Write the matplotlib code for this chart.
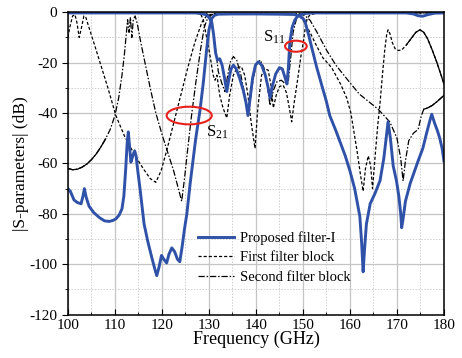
import numpy as np
import matplotlib
matplotlib.use("Agg")
import matplotlib.pyplot as plt
from matplotlib.patches import Ellipse
from matplotlib.ticker import MultipleLocator

plt.rcParams['font.family'] = ['Liberation Serif', 'DejaVu Serif']
plt.rcParams['mathtext.fontset'] = 'custom'
plt.rcParams['mathtext.rm'] = 'Liberation Serif'
plt.rcParams['mathtext.it'] = 'Liberation Serif:italic'
plt.rcParams['axes.unicode_minus'] = False

# proposed filter-I, S21 (blue)
prop_s21 = [
    (100, -70), (100.5, -71), (101.3, -74.5), (102, -75.5), (102.8, -76), (103.2, -73),
    (103.5, -70), (103.9, -73.5), (104.5, -77), (105.5, -79.5), (106.7, -81.5), (107.8, -82.8),
    (108.8, -83), (109.6, -82.6), (110.2, -82), (110.9, -80.5), (111.5, -78), (111.9, -73),
    (112.3, -62), (112.6, -52), (112.85, -47.5), (113.1, -53), (113.4, -59.5), (113.8, -57),
    (114.2, -55), (114.5, -57), (114.8, -62), (115.4, -71), (116.2, -84), (117, -91),
    (117.8, -97), (118.5, -102), (118.9, -104.5), (119.4, -101), (119.9, -96.5), (120.4, -98),
    (121, -99.5), (121.5, -96), (122.1, -93.5), (122.7, -95), (123.3, -98), (123.8, -99),
    (124.3, -93), (124.8, -86), (125.3, -80), (126, -68), (126.6, -59), (127.2, -50),
    (128.1, -38.9), (128.8, -28), (129.5, -15), (130, -7), (130.6, -2.5), (131.2, -1.2),
    (132, -0.8), (135, -0.7), (140, -0.7), (145, -0.8), (148, -0.9), (149.3, -1.5),
    (150, -2.5), (150.4, -3.5), (151.2, -9), (152, -15), (152.9, -21.7), (154, -29),
    (155, -35.5), (155.7, -41), (157, -47), (158, -52), (159, -57), (160, -63),
    (161, -70), (162.1, -81), (162.5, -92), (162.8, -103), (163.1, -94), (163.5, -84),
    (164.3, -76), (165.3, -72), (166.4, -66.8), (167.2, -58), (167.7, -50), (168.1, -43.5),
    (168.6, -50), (169.2, -61), (169.9, -67), (170.4, -73), (170.8, -80), (171, -85.5),
    (171.3, -82), (171.8, -75), (172.8, -68), (174.5, -59), (175.5, -54), (176.3, -48),
    (177, -43), (177.4, -40.5), (178, -44), (178.6, -47), (179.1, -50), (179.6, -54), (180, -59),
]

# proposed filter-I, S11 (blue)
prop_s11 = [
    (100, -0.3), (127, -0.3), (128.5, -0.6), (129.3, -1), (130, -2), (130.6, -4),
    (131, -9), (131.4, -16), (131.8, -19), (132.3, -18.5), (132.8, -21), (133.3, -26),
    (133.8, -31.5), (134.2, -27), (134.7, -22.5), (135.2, -21), (135.8, -22.5), (136.5, -26),
    (137.3, -31), (137.9, -36), (138.3, -41), (138.7, -35), (139.3, -26), (139.9, -21),
    (140.5, -19.7), (141.2, -21), (142, -25), (142.6, -30), (143, -34), (143.4, -30),
    (144.2, -24.5), (145, -22), (145.6, -22.5), (146.2, -26), (146.6, -28.5), (146.9, -22),
    (147.2, -12), (147.7, -6), (148.3, -3), (148.8, -1.8), (149.5, -1), (150.5, -0.5),
    (152, -0.3), (172, -0.3), (173.5, -0.7), (174.5, -1.4), (175.5, -1.6), (176.5, -1),
    (178, -0.4), (180, -0.3),
]

# first filter block, S21 (short dashes)
first_s21 = [
    (100, -10), (100.4, -6), (101, -1.5), (101.5, -1), (101.9, -4), (102.4, -10),
    (102.9, -6), (103.4, -1.5), (103.8, -2), (104.3, -5), (105.5, -12), (107, -21),
    (108.5, -30), (110.2, -41), (112, -49), (114, -56), (116, -62), (117.5, -66),
    (118.7, -67.5), (119.8, -63), (121, -55), (122.5, -44), (124, -33), (125.5, -22),
    (127, -12), (128.5, -4), (129.5, -1.5), (131, -0.5), (140, -0.4), (148.5, -0.6),
    (149.3, -1.5), (150.3, -4), (151.5, -8), (152.8, -13), (154.2, -18), (156.1, -22),
    (158, -28.5), (159.3, -34), (160.2, -40), (160.8, -47), (161.5, -55), (162.2, -64),
    (162.8, -71), (163.3, -62), (163.9, -57), (164.4, -61), (164.8, -70), (165.4, -56),
    (165.9, -45), (166.4, -36), (166.9, -25), (167.4, -15), (167.8, -9), (168.1, -7),
    (168.5, -8.5), (169, -12), (169.6, -14.5), (170.3, -15.2), (171, -15), (172, -13),
    (173, -10.5), (174, -8), (174.9, -7), (175.7, -8), (176.5, -10.5), (177.5, -15),
    (178.5, -20), (179.3, -24.5), (180, -28.5),
]

# first filter block, S11
first_s11 = [
    (100, -0.3), (127.5, -0.3), (128.3, -1), (128.8, -3), (129.3, -8), (129.8, -13),
    (130.3, -18), (130.9, -25), (131.3, -27), (131.7, -25), (132.3, -33), (133, -38),
    (133.8, -42), (134.4, -33), (135.2, -25), (136, -22), (136.9, -21.6), (137.6, -25),
    (138.3, -33), (139, -44), (139.8, -54), (140.4, -38), (141.2, -25), (141.9, -22.5),
    (142.6, -23), (143.2, -29), (143.7, -38), (144.3, -33), (145, -29.5), (145.8, -29),
    (146.5, -32), (147.1, -38), (147.6, -43.5), (148.2, -35), (149, -25), (149.6, -17),
    (150.1, -11.7), (150.5, -6), (150.9, -2.5), (151.5, -1), (153, -0.4), (180, -0.3),
]

# second filter block, S21 (dash-dot)
second_s21 = [
    (100, -62), (101, -62.5), (102, -62.3), (103, -61.5), (104, -60.3), (105, -58.5),
    (106, -56.3), (107, -53.5), (108, -50.3), (109, -46.5), (110, -41), (110.8, -34),
    (111.5, -25), (112, -17), (112.4, -9), (112.7, -3), (113, -8), (113.3, -2),
    (113.6, -10), (113.9, -3), (114.3, -1.5), (114.8, -5), (115.5, -12), (116.5, -21),
    (117.5, -30), (118.7, -40), (120.1, -49), (121.3, -56), (122.5, -63), (123.5, -70),
    (124.2, -75), (124.8, -66), (125.5, -54), (126.3, -41), (127.2, -28), (128.2, -15),
    (129, -6), (129.8, -2), (131, -0.6), (140, -0.5), (149.5, -0.6), (150.5, -1.5),
    (151.5, -3.2), (153, -8), (155, -15), (157, -21), (160, -28), (162, -32.5),
    (164, -35.5), (166, -38.5), (168.5, -43.6), (170, -50), (170.8, -58), (171.3, -67),
    (171.8, -59), (172.5, -51), (173.5, -48), (174.5, -46.5), (175.2, -41), (175.7, -38.5),
    (176.5, -38), (177.5, -37), (178.5, -35.5), (180, -33),
]

# second filter block, S11
second_s11 = [
    (100, -0.3), (127.5, -0.3), (129.5, -0.5), (130.3, -2), (131, -8), (131.5, -16),
    (132, -23.6), (132.7, -28), (133.4, -31.5), (134, -25), (134.6, -19.5), (135.2, -17.6),
    (135.9, -19), (136.8, -25), (137.6, -33), (138.4, -40.8), (139.2, -29), (140, -21),
    (140.9, -19), (141.7, -22), (142.4, -29), (143, -37), (143.7, -31), (144.5, -27.5),
    (145.4, -27), (146.3, -28.5), (146.9, -27), (147.4, -18), (147.9, -8), (148.7, -2),
    (149.5, -0.7), (151, -0.3), (180, -0.3),
]

legend_labels = ['Proposed filter-I', 'First filter block', 'Second filter block']

blue = '#2f52a8'
dotted = (0, (2.5, 1.6))
dashdot = (0, (5, 1.5, 1.2, 1.5))


def xy(pts):
    a = np.array(pts)
    return a[:, 0], a[:, 1]


fig = plt.figure(figsize=(4.62, 3.58), dpi=100)
ax = fig.add_axes([0.147, 0.121, 0.814, 0.845])

ax.xaxis.set_major_locator(MultipleLocator(10))
ax.xaxis.set_minor_locator(MultipleLocator(5))
ax.yaxis.set_major_locator(MultipleLocator(20))
ax.yaxis.set_minor_locator(MultipleLocator(10))
ax.grid(which='major', color='#c4c4c4', lw=0.9, ls='-')
ax.grid(which='minor', color='#cfcfcf', lw=0.7, ls=(0, (1.5, 1.5)))
ax.set_axisbelow(True)

# black curves
x, y = xy(first_s21)
ax.plot(x, y, color='black', lw=0.9, ls=dotted)
x, y = xy(first_s11)
ax.plot(x, y, color='black', lw=0.9, ls=dotted)
x, y = xy(second_s21)
ax.plot(x, y, color='black', lw=0.9, ls=dashdot)
ax.plot(x[:9], y[:9], color='black', lw=0.9)          # smooth part looks solid
ax.plot(x[-5:], y[-5:], color='black', lw=0.9)
x, y = xy(second_s11)
ax.plot(x, y, color='black', lw=0.9, ls=dashdot)
x, y = xy(first_s21)
ax.plot(x[-10:], y[-10:], color='black', lw=0.9)

# blue curves
x, y = xy(prop_s21)
ax.plot(x, y, color=blue, lw=2.1, solid_joinstyle='round')
x, y = xy(prop_s11)
ax.plot(x, y, color=blue, lw=2.1, solid_joinstyle='round')

# legend handles
h1, = ax.plot([], [], color=blue, lw=2.1)
h2, = ax.plot([], [], color='black', lw=0.9, ls=dotted)
h3, = ax.plot([], [], color='black', lw=0.9, ls=dashdot)
ax.legend([h1, h2, h3], legend_labels, loc='upper left', bbox_to_anchor=(0.33, 0.295),
          frameon=False, fontsize=10.5, handlelength=2.5, handletextpad=0.4,
          labelspacing=0.42, borderaxespad=0)

# annotations
ax.add_patch(Ellipse((125.8, -41), 9.6, 7, fill=False, ec='#e8201c', lw=1.5, zorder=5))
ax.add_patch(Ellipse((148.5, -13.5), 4.6, 4.4, fill=False, ec='#e8201c', lw=1.5, zorder=5))
ax.text(129.4, -49.5, r'S$_{21}$', fontsize=12)
ax.text(141.6, -11.5, r'S$_{11}$', fontsize=12)

ax.set_xlim(100, 180)
ax.set_ylim(-120, 0)
ax.tick_params(axis='x', which='both', direction='in', labelsize=11, pad=3)
ax.tick_params(axis='y', which='both', direction='out', labelsize=11)
ax.tick_params(which='major', length=4)
ax.tick_params(which='minor', length=2.5)
for s in ax.spines.values():
    s.set_linewidth(1.1)
ax.set_xlabel('Frequency (GHz)', fontsize=13, labelpad=-1)
ax.set_ylabel('|S-parameters| (dB)', fontsize=12.5, labelpad=0)

fig.savefig('out.png', dpi=100)
